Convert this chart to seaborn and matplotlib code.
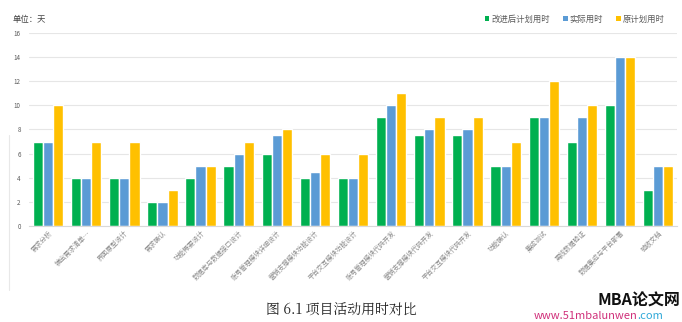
import matplotlib
matplotlib.use("Agg")
import matplotlib.pyplot as plt
import seaborn as sns
import pandas as pd
from matplotlib.patches import Patch

categories = [
    "需求分析", "输出需求清单…", "界面原型设计", "需求确认", "功能概要设计",
    "数据库与数据接口设计", "账号管理模块详细设计", "营销支撑模块功能设计",
    "平台交互模块功能设计", "账号管理模块代码开发", "营销支撑模块代码开发",
    "平台交互模块代码开发", "功能确认", "集成测试", "离线数据验证",
    "数据集成与平台部署", "验收文档",
]
improved_plan = [7, 4, 4, 2, 4, 5, 6, 4, 4, 9, 7.5, 7.5, 5, 9, 7, 10, 3]
actual = [7, 4, 4, 2, 5, 6, 7.5, 4.5, 4, 10, 8, 8, 5, 9, 9, 14, 5]
original_plan = [10, 7, 7, 3, 5, 7, 8, 6, 6, 11, 9, 9, 7, 12, 10, 14, 5]
series_names = ["改进后计划用时", "实际用时", "原计划用时"]
colors = ["#00B050", "#5B9BD5", "#FFC000"]
yticks = [0, 2, 4, 6, 8, 10, 12, 14, 16]

sns.set_theme(style="white")
plt.rcParams["font.family"] = ["Noto Sans CJK SC", "DejaVu Sans"]

df = pd.DataFrame({
    "活动": categories * 3,
    "系列": [series_names[0]] * len(categories)
            + [series_names[1]] * len(categories)
            + [series_names[2]] * len(categories),
    "天数": improved_plan + actual + original_plan,
})

fig = plt.figure(figsize=(6.82, 3.22), dpi=100)
ax = fig.add_axes([0.0425, 0.298, 0.9505, 0.600])

sns.barplot(data=df, x="活动", y="天数", hue="系列", palette=colors,
            hue_order=series_names, width=0.8, ax=ax, legend=False,
            edgecolor="white", linewidth=1.0, saturation=1)

ax.set_xlim(-0.5, len(categories) - 0.5)
ax.set_ylim(0, 16)
ax.set_yticks(yticks)
ax.set_yticklabels([str(v) for v in yticks], fontsize=4.5, color="#595959")
ax.yaxis.grid(True, color="#E6E6E6", linewidth=0.8)
ax.set_axisbelow(True)
ax.set_xlabel("")
ax.set_ylabel("")
for s in ["top", "right", "left"]:
    ax.spines[s].set_visible(False)
ax.spines["bottom"].set_color("#D9D9D9")
ax.spines["bottom"].set_linewidth(0.8)
ax.tick_params(axis="y", length=0, pad=6)
ax.tick_params(axis="x", length=0, pad=2)
ax.set_xticks(range(len(categories)))
ax.set_xticklabels(categories, rotation=45, ha="right", rotation_mode="anchor",
                   fontsize=4.8, color="#8C8C8C")

fig.text(0.018, 0.94, "单位：天", fontsize=6, color="#404040", va="center")

handles = [Patch(facecolor=c, edgecolor="none") for c in colors]
fig.legend(handles, series_names, loc="center right", bbox_to_anchor=(0.985, 0.94),
           ncol=3, frameon=False, fontsize=6, handlelength=0.55, handleheight=0.55,
           handletextpad=0.2, columnspacing=1.6, labelcolor="#595959")

fig.add_artist(plt.Line2D([0.013, 0.013], [0.10, 0.58], color="#E8E8E8", linewidth=0.8))

fig.text(0.5, 0.035, "图 6.1 项目活动用时对比", ha="center", va="center", fontsize=10,
         family=["Noto Serif CJK SC", "Noto Sans CJK SC", "DejaVu Sans"], color="#222222")
fig.text(0.997, 0.068, "MBA论文网", ha="right", va="center", fontsize=11.5,
         fontweight="bold", fontstyle="italic", color="#111111")
url = fig.text(0.934, 0.02, "www.51mbalunwen", ha="right", va="center", fontsize=8,
               fontstyle="italic", color="#D0307A")
fig.text(0.934, 0.02, ".com", ha="left", va="center", fontsize=8,
         fontstyle="italic", color="#2FA8D8")

fig.savefig("out.png", dpi=100)
